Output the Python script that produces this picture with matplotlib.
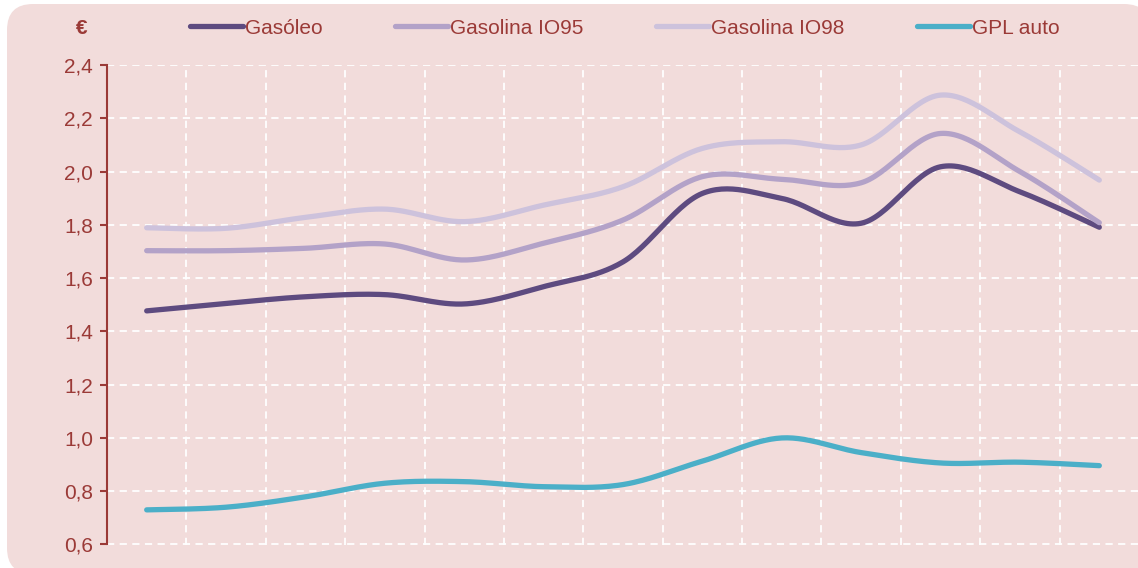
import numpy as np
import matplotlib.pyplot as plt
from matplotlib.patches import FancyBboxPatch
from matplotlib.ticker import FuncFormatter, MultipleLocator

plt.rcParams['font.family'] = ['Liberation Sans', 'DejaVu Sans']

# values (13 periods, no x labels)
periods = list(range(13))
gasoleo = [1.477, 1.505, 1.530, 1.538, 1.503, 1.568, 1.661, 1.918, 1.899, 1.806, 2.018, 1.924, 1.791]
gasolina95 = [1.703, 1.703, 1.712, 1.728, 1.668, 1.731, 1.818, 1.981, 1.971, 1.958, 2.143, 2.000, 1.808]
gasolina98 = [1.789, 1.787, 1.828, 1.859, 1.812, 1.874, 1.943, 2.087, 2.112, 2.100, 2.287, 2.149, 1.968]
gpl = [0.730, 0.740, 0.779, 0.830, 0.836, 0.817, 0.825, 0.913, 1.000, 0.945, 0.906, 0.909, 0.896]

labels = ['Gasóleo', 'Gasolina IO95', 'Gasolina IO98', 'GPL auto']
colors = ['#5e4b80', '#b3a2c8', '#cdc2dc', '#4bafc8']
red = '#9b3a37'


def smooth(x, y, n=30):
    # excel-like smoothed line (catmull-rom bezier)
    x = np.asarray(x, float)
    y = np.asarray(y, float)
    px = np.concatenate([[x[0]], x, [x[-1]]])
    py = np.concatenate([[y[0]], y, [y[-1]]])
    xs, ys = [], []
    t = np.linspace(0, 1, n)
    for i in range(1, len(px) - 2):
        p0 = np.array([px[i], py[i]])
        p3 = np.array([px[i + 1], py[i + 1]])
        p1 = p0 + (np.array([px[i + 1], py[i + 1]]) - np.array([px[i - 1], py[i - 1]])) / 6
        p2 = p3 - (np.array([px[i + 2], py[i + 2]]) - np.array([px[i], py[i]])) / 6
        b = ((1 - t) ** 3)[:, None] * p0 + (3 * (1 - t) ** 2 * t)[:, None] * p1 \
            + (3 * (1 - t) * t ** 2)[:, None] * p2 + (t ** 3)[:, None] * p3
        xs.extend(b[:, 0])
        ys.extend(b[:, 1])
    return xs, ys


fig = plt.figure(figsize=(11.38, 5.68), dpi=100)
fig.patch.set_facecolor('white')

# pink rounded card behind everything (pixel coords), cut off at right and bottom
bgax = fig.add_axes([0, 0, 1, 1], zorder=-5)
bgax.set_xlim(0, 1138)
bgax.set_ylim(568, 0)
bgax.axis('off')
bgax.add_patch(FancyBboxPatch((7, 4), 1143, 570, boxstyle='round,pad=0,rounding_size=26',
                              facecolor='#f2dcdb', edgecolor='none'))

ax = fig.add_axes([107 / 1138, 1 - 544.5 / 568, 1032 / 1138, (544.5 - 65) / 568])
ax.set_facecolor('none')

for series, lab, c in zip([gasoleo, gasolina95, gasolina98, gpl], labels, colors):
    sx, sy = smooth(periods, series)
    ax.plot(sx, sy, color=c, lw=3.8, solid_capstyle='round', label=lab, zorder=3)

ax.set_xlim(-0.5, 12.5)
ax.set_ylim(0.6, 2.4)
ax.yaxis.set_major_locator(MultipleLocator(0.2))
ax.yaxis.set_major_formatter(FuncFormatter(lambda v, p: f'{v:.1f}'.replace('.', ',')))
ax.set_xticks([])
ax.set_xticks(np.arange(0.5, 12.5, 1), minor=True)
ax.tick_params(axis='x', which='both', length=0)
ax.tick_params(axis='y', colors=red, labelcolor=red, labelsize=15, length=5, width=1.5, pad=5)
ax.grid(True, axis='y', which='major', color='white', ls=(0, (4, 3)), lw=1.3)
ax.grid(True, axis='x', which='minor', color='white', ls=(0, (4, 3)), lw=1.3)
for s in ['top', 'right', 'bottom']:
    ax.spines[s].set_visible(False)
ax.spines['left'].set_color(red)
ax.spines['left'].set_linewidth(1.5)

fig.text(82 / 1138, 1 - 28 / 568, '€', color=red, fontsize=15, fontweight='bold',
         ha='center', va='center')

fig.legend(loc='center', bbox_to_anchor=(0.549, 1 - 28 / 568), ncol=4, frameon=False,
           fontsize=15, labelcolor=red, handlelength=2.55, handletextpad=0.12,
           columnspacing=3.45)

fig.savefig('out.png', dpi=100)
plt.close(fig)
